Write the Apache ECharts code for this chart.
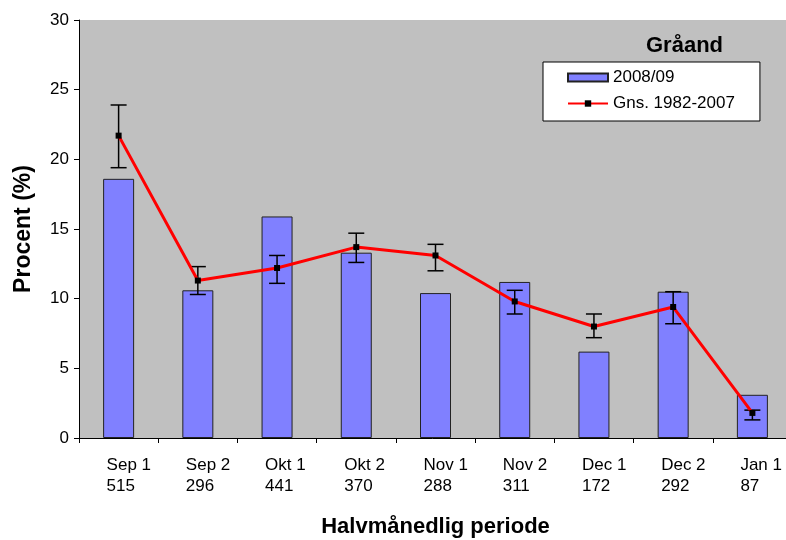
<!DOCTYPE html>
<html>
<head>
<meta charset="utf-8">
<script src="https://cdn.jsdelivr.net/npm/echarts@6/dist/echarts.min.js"></script>
<style>
  html, body { margin: 0; padding: 0; background: #fff; }
  #chart { width: 786px; height: 540px; }
</style>
</head>
<body>
<div id="chart"></div>
<script>
// Halvmånedlige perioder og antal
const periods = ['Sep 1', 'Sep 2', 'Okt 1', 'Okt 2', 'Nov 1', 'Nov 2', 'Dec 1', 'Dec 2', 'Jan 1'];
const counts = [515, 296, 441, 370, 288, 311, 172, 292, 87];

// 2008/09 fordeling (%)
const season0809 = [18.6, 10.6, 15.9, 13.3, 10.4, 11.2, 6.2, 10.5, 3.1];

// Gennemsnit 1982-2007 med usikkerhed
const avgValues = [21.7, 11.3, 12.2, 13.7, 13.1, 9.8, 8.0, 9.4, 1.8];
const avgLow = [19.4, 10.3, 11.1, 12.6, 12.0, 8.9, 7.2, 8.2, 1.3];
const avgHigh = [23.9, 12.3, 13.1, 14.7, 13.9, 10.6, 8.9, 10.5, 2.0];

const font = 'Liberation Sans, Arial, sans-serif';

const chart = echarts.init(document.getElementById('chart'), null, { renderer: 'canvas' });

const errData = periods.map((p, i) => [i, avgLow[i], avgHigh[i]]);

chart.setOption({
    backgroundColor: '#fff',
    animation: false,
    textStyle: { fontFamily: font },
    title: {
        text: 'Gråand',
        left: 641,
        top: 30,
        textStyle: { fontFamily: font, fontSize: 22, fontWeight: 'bold', color: '#000' }
    },
    legend: {
        data: [{ name: '2008/09', icon: 'rect' }, { name: 'Gns. 1982-2007' }],
        orient: 'vertical',
        left: 543,
        top: 62,
        padding: [7, 25, 9, 24],
        itemGap: 9,
        itemWidth: 40,
        itemHeight: 8,
        backgroundColor: '#fff',
        borderColor: '#000',
        borderWidth: 1,
        borderRadius: 0,
        textStyle: { fontFamily: font, fontSize: 17, color: '#000' }
    },
    grid: {
        left: 79,
        top: 20,
        width: 713,
        bottom: 102,
        outerBoundsMode: 'none',
        show: true,
        backgroundColor: '#c0c0c0',
        borderWidth: 0
    },
    xAxis: {
        type: 'category',
        data: periods,
        name: 'Halvmånedlig periode',
        nameLocation: 'middle',
        nameGap: 78,
        nameTextStyle: { fontFamily: font, fontSize: 22, fontWeight: 'bold', color: '#000' },
        axisLine: { lineStyle: { color: '#000', width: 1 } },
        axisTick: { show: true, length: 5, lineStyle: { color: '#000' } },
        axisLabel: {
            margin: 17,
            interval: 0,
            color: '#000',
            fontSize: 17,
            lineHeight: 21,
            formatter: (v, i) => '{a|' + v + '}\n{a|' + counts[i] + '}',
            rich: {
                a: { width: 24, align: 'left', fontSize: 17, fontFamily: font, color: '#000', lineHeight: 21 }
            }
        },
        splitLine: { show: false }
    },
    yAxis: {
        type: 'value',
        min: 0,
        max: 30,
        interval: 5,
        name: 'Procent (%)',
        nameLocation: 'middle',
        nameGap: 44,
        nameRotate: 90,
        nameTextStyle: { fontFamily: font, fontSize: 23, fontWeight: 'bold', color: '#000' },
        axisLine: { show: true, lineStyle: { color: '#000', width: 1 } },
        axisTick: { show: true, length: 5, lineStyle: { color: '#000' } },
        axisLabel: { color: '#000', fontSize: 17, margin: 10 },
        splitLine: { show: false }
    },
    series: [
        {
            name: '2008/09',
            type: 'bar',
            data: season0809,
            barWidth: 31,
            itemStyle: { color: '#8080ff', borderColor: '#222', borderWidth: 1 }
        },
        {
            name: 'errors',
            type: 'custom',
            data: errData,
            z: 3,
            renderItem: (params, api) => {
                const x = api.value(0);
                const lo = api.coord([x, api.value(1)]);
                const hi = api.coord([x, api.value(2)]);
                const half = 8;
                const st = { stroke: '#000', lineWidth: 1.5 };
                return {
                    type: 'group',
                    children: [
                        { type: 'line', shape: { x1: lo[0], y1: lo[1], x2: hi[0], y2: hi[1] }, style: st },
                        { type: 'line', shape: { x1: lo[0] - half, y1: lo[1], x2: lo[0] + half, y2: lo[1] }, style: st },
                        { type: 'line', shape: { x1: hi[0] - half, y1: hi[1], x2: hi[0] + half, y2: hi[1] }, style: st }
                    ]
                };
            }
        },
        {
            name: 'Gns. 1982-2007',
            type: 'line',
            data: avgValues,
            z: 4,
            symbol: 'rect',
            symbolSize: 6,
            lineStyle: { color: '#ff0000', width: 3 },
            itemStyle: { color: '#000', borderWidth: 0 }
        }
    ]
});

window.addEventListener('resize', () => chart.resize());
</script>
</body>
</html>
